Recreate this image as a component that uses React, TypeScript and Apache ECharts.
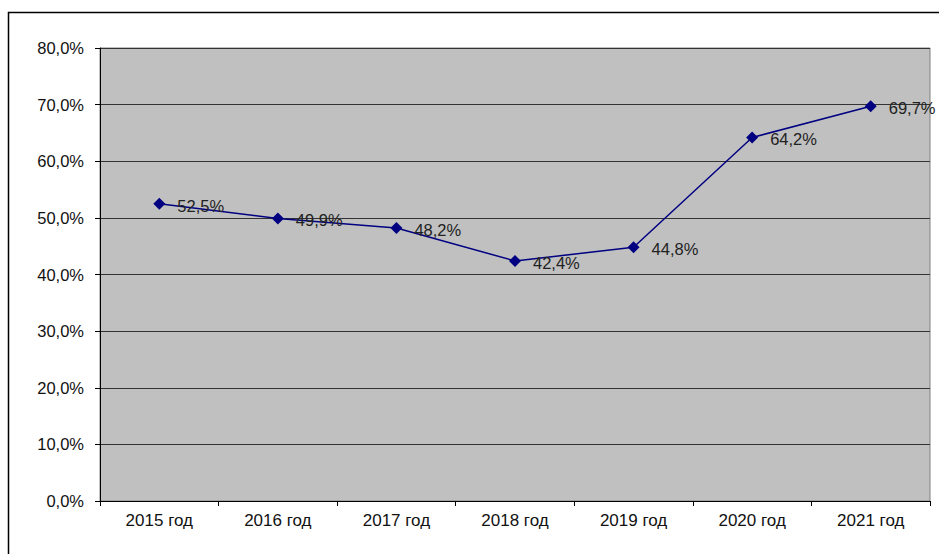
import React, { useEffect, useRef } from "react";
import * as echarts from "echarts";

const categories = ["2015 год", "2016 год", "2017 год", "2018 год", "2019 год", "2020 год", "2021 год"];
const values = [52.5, 49.9, 48.2, 42.4, 44.8, 64.2, 69.7];
const yMin = 0;
const yMax = 80;
const yStep = 10;

const fmt = (v: number) => v.toFixed(1).replace(".", ",") + "%";

export default function App() {
  const ref = useRef<HTMLDivElement>(null);
  useEffect(() => {
    if (!ref.current) return;
    const chart = echarts.init(ref.current, null, { renderer: "svg" });
    const font = "Liberation Sans, Arial, sans-serif";
    chart.setOption({
      animation: false,
      backgroundColor: "#ffffff",
      graphic: [
        {
          type: "rect",
          shape: { x: 8.5, y: 12.5, width: 1000, height: 1000 },
          style: { fill: "none", stroke: "#000", lineWidth: 1.5 },
          silent: true,
        },
      ],
      grid: {
        left: 100,
        top: 48,
        width: 830,
        height: 453,
        show: true,
        backgroundColor: "#c0c0c0",
        borderColor: "#808080",
        borderWidth: 1,
      },
      xAxis: {
        type: "category",
        data: categories,
        boundaryGap: true,
        axisLine: { show: true, lineStyle: { color: "#000", width: 1 } },
        axisTick: { show: true, length: 5, alignWithLabel: false, lineStyle: { color: "#000" } },
        axisLabel: { color: "#111", fontFamily: font, fontSize: 17, margin: 11 },
        splitLine: { show: false },
      },
      yAxis: {
        type: "value",
        min: yMin,
        max: yMax,
        interval: yStep,
        axisLine: { show: true, lineStyle: { color: "#000", width: 1 } },
        axisTick: { show: true, length: 5, lineStyle: { color: "#000" } },
        axisLabel: { color: "#111", fontFamily: font, fontSize: 16.5, margin: 16, formatter: (v: number) => fmt(v) },
        splitLine: { show: true, lineStyle: { color: "#333", width: 1 } },
      },
      series: [
        {
          type: "line",
          data: values,
          symbol: "diamond",
          symbolSize: 12,
          lineStyle: { color: "#000080", width: 1.5 },
          itemStyle: { color: "#000080" },
          label: {
            show: true,
            position: "right",
            distance: 12,
            offset: [0, 2],
            color: "#222",
            fontFamily: font,
            fontSize: 16.5,
            formatter: (p: any) => fmt(p.value),
          },
        },
      ],
    });
    return () => chart.dispose();
  }, []);
  return <div ref={ref} style={{ position: "absolute", left: 0, top: 0, width: 939, height: 554 }} />;
}
